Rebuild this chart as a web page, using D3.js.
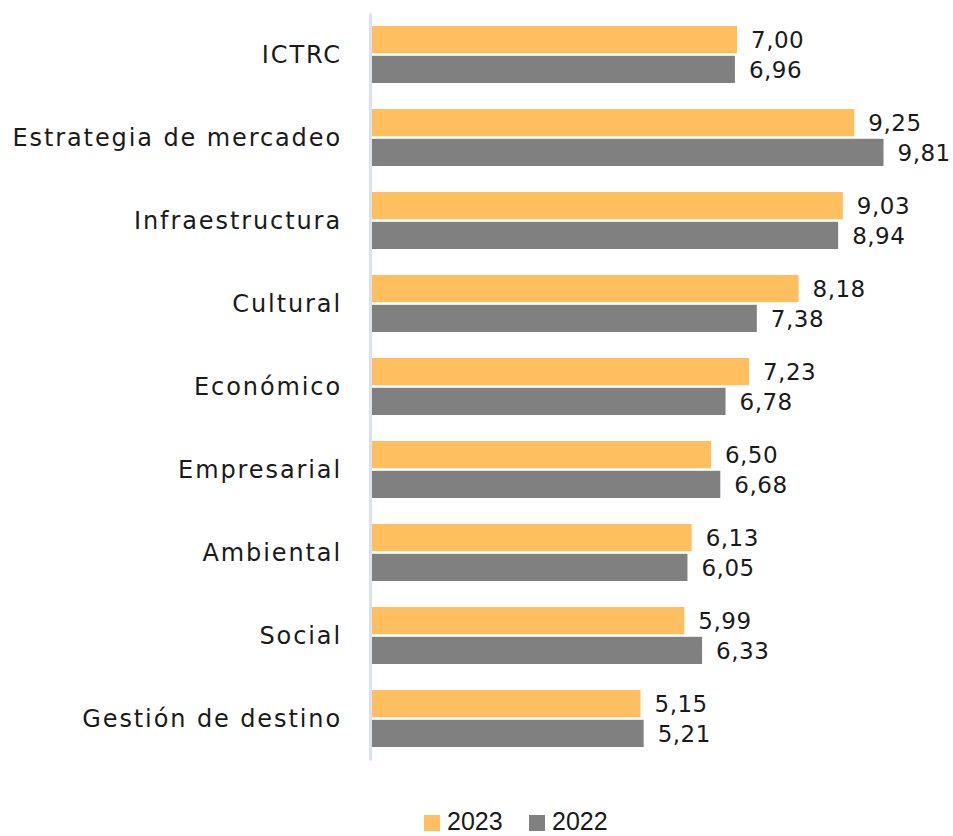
<!DOCTYPE html>
<html><head><meta charset="utf-8">
<script src="https://cdn.jsdelivr.net/npm/d3@7"></script>
<style>body{margin:0;background:#fff}svg{display:block}</style>
</head><body>
<script>
const categories = ["ICTRC","Estrategia de mercadeo","Infraestructura","Cultural","Económico","Empresarial","Ambiental","Social","Gestión de destino"];
const values2023 = [7.00,9.25,9.03,8.18,7.23,6.50,6.13,5.99,5.15];
const values2022 = [6.96,9.81,8.94,7.38,6.78,6.68,6.05,6.33,5.21];
const seriesNames = ["2023","2022"];
const colors = ["#FFBF5F","#808080"];

const W = 953, H = 836;
const svg = d3.select("body").append("svg").attr("width",W).attr("height",H);
const font = "'DejaVu Sans', sans-serif";

const x = d3.scaleLinear().domain([0,7]).range([372,737]);
const y = d3.scaleBand().domain(categories).range([13,760]).paddingInner(26/83).paddingOuter(13/83);
const ySub = d3.scaleBand().domain(seriesNames).range([0,y.bandwidth()]).paddingInner(5/57);

const rows = categories.map((c,i)=>({cat:c, vals:[values2023[i],values2022[i]]}));
const g = svg.selectAll("g.cat").data(rows).join("g").attr("transform",d=>`translate(0,${y(d.cat)})`);
g.selectAll("rect").data(d=>d.vals.map((v,j)=>({v,s:seriesNames[j],j}))).join("rect")
  .attr("x",x(0)).attr("y",d=>ySub(d.s)).attr("width",d=>x(d.v)-x(0)).attr("height",ySub.bandwidth())
  .attr("fill",d=>colors[d.j]);
g.selectAll("text.val").data(d=>d.vals.map((v,j)=>({v,s:seriesNames[j],j}))).join("text")
  .attr("class","val").attr("x",d=>x(d.v)+14).attr("y",d=>ySub(d.s)+ySub.bandwidth()/2).attr("dy","0.36em")
  .attr("font-family",font).attr("font-size",23).attr("fill","#1a1a1a").attr("letter-spacing","0.5")
  .text(d=>d3.format(".2f")(d.v).replace(".",","));

// category axis
const axis = d3.axisLeft(y).tickSize(0).tickPadding(28);
const ax = svg.append("g").attr("transform","translate(370,0)").call(axis);
ax.select(".domain").attr("stroke","#D9E1F2").attr("stroke-width",3);
ax.selectAll("text").attr("font-family",font).attr("font-size",24).attr("fill","#1a1a1a")
  .attr("letter-spacing","1.9").attr("dy","0.36em");

// legend
const leg = svg.append("g");
const legX = [424,529];
seriesNames.forEach((s,i)=>{
  leg.append("rect").attr("x",legX[i]).attr("y",815).attr("width",16).attr("height",16).attr("fill",colors[i]);
  leg.append("text").attr("x",legX[i]+23).attr("y",830).attr("font-family","'Liberation Sans', Arial, sans-serif")
    .attr("font-size",25).attr("fill","#1a1a1a").text(s);
});
</script>
</body></html>
